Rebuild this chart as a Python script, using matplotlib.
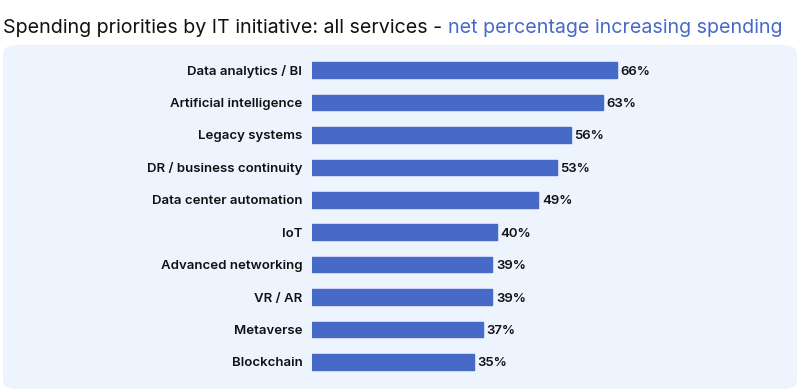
import matplotlib.pyplot as plt
from matplotlib.patches import FancyBboxPatch

# data
categories = ["Data analytics / BI", "Artificial intelligence", "Legacy systems",
              "DR / business continuity", "Data center automation", "IoT",
              "Advanced networking", "VR / AR", "Metaverse", "Blockchain"]
values = [66, 63, 56, 53, 49, 40, 39, 39, 37, 35]

bar_color = "#4769c8"
panel_color = "#edf4fe"

plt.rcParams['font.family'] = ['Inter', 'DejaVu Sans']

fig = plt.figure(figsize=(8, 3.92), dpi=100)

# light blue rounded panel behind the bars
panel = FancyBboxPatch((3 / 800, 3 / 392), 794 / 800, 344 / 392,
                       boxstyle="round,pad=0,rounding_size=0.02",
                       transform=fig.transFigure, facecolor=panel_color,
                       edgecolor="none", zorder=-5)
fig.patches.append(panel)

# title in two colours
t1 = fig.text(3 / 800, 1 - 33 / 392, "Spending priorities by IT initiative: all services - ",
              fontsize=14.15, color="#111111", ha="left", va="baseline")
fig.canvas.draw()
bb = t1.get_window_extent()
fig.text(bb.x1 / 800, 1 - 33 / 392, "net percentage increasing spending",
         fontsize=14.15, color=bar_color, ha="left", va="baseline")

ax = fig.add_axes([312 / 800, 0.0352, 0.5775, 0.8276])
ax.set_facecolor("none")
y = list(range(len(categories)))
ax.barh(y, values, height=0.48, color=bar_color, edgecolor=bar_color,
        linewidth=1, joinstyle="round")
ax.set_xlim(0, 100)
ax.set_ylim(len(categories) - 0.5, -0.5)

for i, v in enumerate(values):
    ax.text(v + 0.8, i, f"{v}%", va="center_baseline", ha="left", fontsize=9.5,
            fontweight="semibold", color="#111111")

ax.set_yticks(y)
ax.set_yticklabels(categories, fontsize=9.5, fontweight="semibold", color="#111111",
                   va="center_baseline")
ax.tick_params(axis="y", length=0, pad=7)
ax.set_xticks([])
for s in ax.spines.values():
    s.set_visible(False)

fig.savefig("out.png", dpi=100)
